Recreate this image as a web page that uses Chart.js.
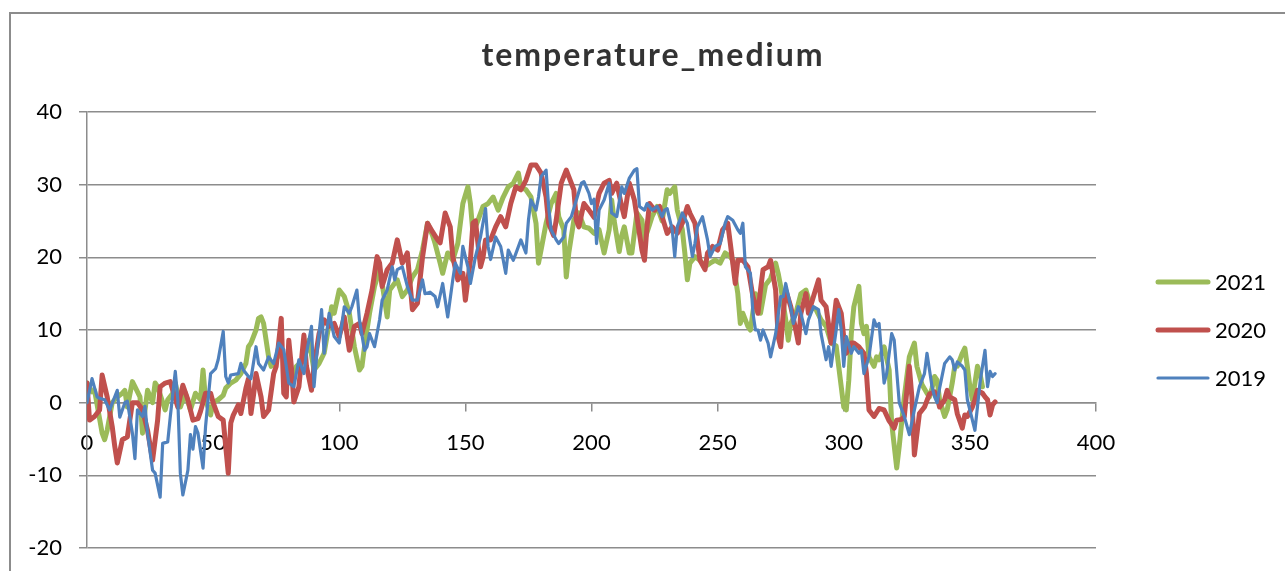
<!DOCTYPE html>
<html>
<head>
<meta charset="utf-8">
<title>temperature_medium</title>
<script src="https://cdn.jsdelivr.net/npm/chart.js@4.4.1/dist/chart.umd.min.js"></script>
<style>
  html, body { margin: 0; padding: 0; background: #fff; }
  #wrap { width: 1285px; height: 571px; }
</style>
</head>
<body>
<div id="wrap"><canvas id="myChart" width="1285" height="571"></canvas></div>
<script>
// day of year / mean temperature, one pair of arrays per year
var days2019 = [0,2,4,5,7,9,12,13,15,16,18,19,20,22,23,24,26,27,29,30,32,33,35,36,37,38,40,41,42,43,44,46,47,48,49,51,52,54,55,56,57,60,61,62,64,65,67,68,70,72,74,76,78,80,82,84,86,87,89,90,91,93,94,95,96,98,100,102,104,105,107,108,110,111,112,114,116,117,119,121,122,123,125,127,129,131,133,134,136,138,139,141,143,145,146,148,149,151,152,154,156,158,159,160,162,164,166,167,169,170,172,174,175,176,178,179,180,182,183,184,186,187,189,190,192,194,196,197,199,200,201,202,203,205,207,208,210,212,213,215,217,218,219,221,222,224,226,228,229,230,232,233,234,236,238,240,241,242,244,246,247,249,251,253,254,256,258,259,260,261,263,264,265,266,267,268,270,271,273,275,276,277,279,280,282,283,285,286,288,290,291,293,294,295,297,298,299,300,301,303,304,306,307,308,310,312,313,314,316,317,319,320,322,324,326,328,330,332,333,334,335,336,337,338,340,342,343,344,345,347,348,349,351,352,353,354,355,356,357,358,359,360];
var temp2019 = [0,3.3,0.8,0.6,0.4,-1,1.7,-2,0,0.2,-4.2,-7.7,-1,-1.9,-0.5,-4.2,-9.3,-9.7,-13,-5.6,-5.4,-2,4.3,0.4,-9.7,-12.7,-9.3,-4.4,-6.4,-3.3,-4.2,-9,-3.3,0.4,4,4.7,5.9,9.8,3.6,2.7,3.8,4,5.4,4.5,3.6,3.3,7.7,5.4,4.5,6.3,5.4,8.2,7.3,2.7,2.2,5.9,4,6.8,10.5,2.2,6.3,12.8,6.8,9.5,12.3,9.1,8.2,13.2,12.3,13.2,15.5,11.4,7.2,7.7,9.5,7.7,11.4,14.1,15.5,18.7,16.9,18.3,18.7,16,14.1,14.1,16.9,15,15.2,14.6,13.2,16.4,11.8,16.9,19.2,17.8,21.5,18.7,16.4,20.1,22.8,26.7,21.5,19.7,22.8,21.5,17.8,21,19.6,20.5,22.4,20.6,25.1,27.9,26.5,28.3,31.1,32,27,23.8,22.4,21.9,22.8,24.7,25.6,27.9,30.2,30.4,28.8,27.4,28,21.9,26.5,27.9,30.2,26.1,25.6,29.7,28.8,30.9,32,32.2,27,26.5,27.4,26.5,27,25.6,26.5,26.7,23.8,20.1,24.2,26.1,24.7,20.1,21.9,24.2,25.6,22.4,20.1,21.5,21.9,24.7,25.6,25.1,23.8,23.3,24.7,18.7,17.8,12.3,10,10,8.6,10,8.2,6.3,9.5,14.6,14.6,16.4,13.2,10.9,13.2,12.3,9.5,11.4,13.2,12.8,9.5,5.9,7.7,5,10,12.8,10,5,9.1,6.8,7.7,6.8,7.2,4,6.3,11.4,10.5,10.9,2.7,4,9.5,8.6,0,-1.9,-4.4,-1,2.2,4,6.8,4.5,2.2,0.8,0,2,5.4,6.3,5.9,4.5,5.6,5,4.5,0.4,-2.4,-3.8,-0.6,2.7,5,7.2,2.2,4.3,3.6,4];

var days2020 = [0,1,3,5,6,8,10,11,12,14,16,18,19,20,22,24,26,28,29,31,33,34,36,38,40,42,44,45,47,49,50,52,54,56,57,58,60,61,63,64,65,66,67,69,70,72,74,75,77,78,79,80,81,82,84,86,87,89,90,92,94,96,98,100,102,104,106,108,109,111,113,115,116,117,119,121,123,125,127,129,131,133,135,137,139,140,142,144,145,147,149,150,152,153,154,156,157,158,160,162,164,166,168,170,172,174,176,178,180,182,183,185,186,188,190,191,193,194,195,197,199,201,203,205,207,208,210,212,213,215,217,219,220,221,222,223,225,227,228,230,232,234,236,238,239,241,243,245,246,248,250,252,254,255,257,258,260,262,264,266,267,268,270,271,273,274,275,276,277,279,281,282,283,285,286,288,290,291,293,295,296,297,299,300,301,303,304,306,308,309,310,312,314,316,318,320,321,323,324,326,327,328,330,332,334,336,337,338,340,341,342,344,345,347,348,349,351,352,353,355,356,357,358,359,360];
var temp2020 = [2.7,-2.4,-1.9,-1,3.8,0.8,-3.3,-6,-8.3,-5.1,-4.7,0,0,0,-1,-3.8,-7.9,-2.4,2.2,2.7,2.9,1.7,-0.6,2.4,0.4,-2.4,-2.2,-1.2,1.3,1.3,0,-1.9,-2.4,-9.7,-2.8,-1.7,-0.3,-1.5,2,3.3,-1.5,1,4,0.8,-1.9,-1,4,5,11.6,1.3,0.8,8.6,5,0.1,2.2,9.3,5,1.7,5,9.5,11.4,10.5,10.9,9.1,11.8,7.2,10.5,10.9,9.5,12.3,15.5,20.1,19.2,16,18.3,19.2,22.4,19.2,20.6,12.8,13.7,20,24.7,23.5,22.4,22,26.1,24.2,20.1,16.9,17.8,14.1,19.6,24.7,25,18.7,20,22.4,22.4,24.2,25.6,24.2,27.4,29.7,29.3,30.6,32.7,32.7,31.6,28.3,24.7,23,25.1,30.2,32,31.1,29.3,25.1,24.2,27.4,26.5,25.5,28.8,30.2,30.6,28.8,30.2,27,25.6,30.2,27.9,23.3,21,19.6,24.2,27.4,26.5,27,25.6,23.3,24.2,23.3,24.7,27,26.1,24.7,19.6,18.3,20.6,21.5,21,23.8,24.7,22,16.4,19.6,19.6,18.7,14.6,12.3,15.5,18.3,18.7,19.6,15.5,9.1,7.7,12.3,15.5,13.2,10,8.2,12.3,15,12.3,14.6,16.9,14.1,13.2,8.2,11,14.1,12.3,9,6.8,8.2,8.2,7.7,6.8,4,-1,-1.9,-0.8,-1,-2.5,-3.5,-2.4,-2.3,-1.9,5,0.8,-7.2,-1.5,-0.6,1.2,1.5,0.8,-0.6,0.4,1.7,0.8,0.4,-1.5,-3.5,-1.7,-1.9,-0.6,0.4,1.7,1.3,0.8,0.4,-1.7,-0.3,0.1];

var days2021 = [0,2,3,6,7,8,10,12,14,15,16,18,19,21,22,23,24,26,27,28,31,32,34,35,37,39,41,43,45,46,47,49,50,52,54,55,57,59,61,63,64,65,67,68,69,70,72,73,75,77,79,81,83,86,88,90,92,94,96,97,98,100,102,104,106,108,109,110,112,114,116,117,119,120,123,125,127,129,131,133,135,137,138,140,141,143,145,147,149,151,152,153,155,157,159,161,163,165,167,169,171,172,174,176,178,179,180,182,184,186,187,189,190,191,193,195,197,199,201,203,205,207,208,209,211,212,213,215,216,218,220,221,223,224,226,228,230,231,233,234,236,237,238,239,241,243,245,247,249,251,253,255,256,258,259,260,262,263,265,267,269,271,273,274,275,277,278,279,281,283,285,287,289,291,293,295,297,298,300,301,302,303,304,306,307,308,309,310,312,313,314,316,318,319,321,322,324,326,328,329,331,333,334,335,336,337,338,340,341,343,344,345,347,348,349,350,351,353,354,355];
var temp2021 = [2.7,1.5,1.7,-4.2,-5.1,-3.8,0,0.8,1.3,1.7,-0.6,2.9,2.2,0.8,-4.2,-1,1.7,0,2.7,2.2,-1,0.4,1.3,2.7,-0.6,1.3,-1,1.3,0.4,4.5,0.4,-1.7,0,0.4,1,2,2.7,3.1,4,5.4,7.7,8.2,10,11.6,11.8,10.9,6.3,5,5.9,7.2,5,3.1,5,5.9,8.6,4.5,5.4,6.8,10.9,13.2,12.3,15.5,14.6,12.3,7.7,4.5,5,7.7,12.3,16,18.3,16.4,11.8,15.5,16.9,14.6,15.5,17.3,18.3,21,24.7,23,21.9,19.2,17.8,20.6,19.6,21.9,27.4,29.7,27.4,23.3,25.1,27,27.4,28.3,26.5,28.3,29.7,30.2,31.6,29.7,29.3,28.3,24.7,19.2,21,24.7,27.4,28.8,25.6,23.8,17.3,20.6,25.1,26.1,24.2,24,23.3,23.8,20.6,23.8,27.9,25,20.8,23,24.2,20.6,20.6,26.1,25.1,22.4,24.5,25.6,27,25,29.3,28.8,29.7,26.5,23.8,20.6,16.9,19.2,20.1,19.6,18.7,19.2,19.6,19.2,20.6,20.1,19.6,15,10.9,12.3,10.5,10,15,12.3,16.2,17.1,19.2,17.8,16,11.4,8.6,10.9,12.3,15,15.5,13.2,12.8,11.4,10.5,8.2,7.8,5,-0.6,-1,3.1,9.5,13.2,16,10.9,9.5,10.5,6.3,5,6.3,5.9,7.7,4.5,-2.8,-9,-6,0.8,6.3,8.2,5,2.5,1.3,0.8,2,3.6,3.1,0.4,-1.9,-1,2.7,5,5,6.8,7.5,5,2.2,0.4,5,4,2.2];

var seriesNames = ['2019', '2020', '2021'];
var seriesColors = ['#4F81BD', '#C0504D', '#9BBB59'];
var seriesWidths = [3.2, 5, 5];

var xTicks = { min: 0, max: 400, step: 50 };
var yTicks = { min: -20, max: 40, step: 10 };

var gridColor = '#8c8c8c';
var fontFamily = 'Lato, "Liberation Sans", sans-serif';

function points(days, temps) {
    return days.map(function (d, i) { return { x: d, y: temps[i] }; });
}

var allDays = [days2019, days2020, days2021];
var allTemps = [temp2019, temp2020, temp2021];

// frame, title and legend drawn the way the spreadsheet chart does it
var chartDecor = {
    id: 'chartDecor',
    beforeDraw: function (chart) {
        var c = chart.ctx;
        c.save();
        c.fillStyle = '#fff';
        c.fillRect(0, 0, chart.width, chart.height);
        c.strokeStyle = gridColor;
        c.lineWidth = 2;
        c.beginPath();
        c.moveTo(10, chart.height);
        c.lineTo(10, 13);
        c.lineTo(chart.width, 13);
        c.stroke();
        c.restore();
    },
    afterDraw: function (chart) {
        var c = chart.ctx;
        c.save();
        c.fillStyle = '#333';
        c.font = 'bold 32px ' + fontFamily;
        c.textAlign = 'center';
        c.textBaseline = 'alphabetic';
        if ('letterSpacing' in c) c.letterSpacing = '2px';
        c.fillText('temperature_medium', 653, 66);
        if ('letterSpacing' in c) c.letterSpacing = '0px';

        // legend, newest year on top
        var ds = chart.data.datasets;
        c.font = '22px ' + fontFamily;
        c.textAlign = 'left';
        c.textBaseline = 'middle';
        c.lineCap = 'round';
        for (var k = 0; k < ds.length; k++) {
            var d = ds[ds.length - 1 - k];
            var y = 282 + k * 48;
            c.strokeStyle = d.borderColor;
            c.lineWidth = d.borderWidth;
            c.beginPath();
            c.moveTo(1158, y);
            c.lineTo(1208, y);
            c.stroke();
            c.fillStyle = '#000';
            c.fillText(d.label, 1215, y + 1);
        }
        c.restore();
    }
};

var ctx = document.getElementById('myChart').getContext('2d');
var chart = new Chart(ctx, {
    type: 'line',
    data: {
        datasets: seriesNames.map(function (name, i) {
            return {
                label: name,
                data: points(allDays[i], allTemps[i]),
                borderColor: seriesColors[i],
                backgroundColor: seriesColors[i],
                borderWidth: seriesWidths[i],
                fill: false
            };
        })
    },
    options: {
        responsive: false,
        animation: false,
        devicePixelRatio: 1,
        layout: { padding: { top: 112, right: 189, bottom: 23, left: 0 } },
        elements: {
            point: { radius: 0, hoverRadius: 0 },
            line: { tension: 0, borderJoinStyle: 'round', borderCapStyle: 'round' }
        },
        plugins: {
            legend: { display: false },
            title: { display: false },
            tooltip: { enabled: false }
        },
        scales: {
            x: {
                type: 'linear',
                position: { y: 0 },
                min: xTicks.min,
                max: xTicks.max,
                ticks: {
                    stepSize: xTicks.step,
                    color: '#000',
                    font: { family: fontFamily, size: 22, lineHeight: 1.45 },
                    padding: 16,
                    maxRotation: 0,
                    autoSkip: false
                },
                grid: { drawOnChartArea: false, drawTicks: true, tickLength: 8, color: gridColor, lineWidth: 1.5 },
                border: { color: gridColor, width: 1.5 }
            },
            y: {
                min: yTicks.min,
                max: yTicks.max,
                ticks: {
                    stepSize: yTicks.step,
                    color: '#000',
                    // small lineHeight keeps the bottom label from reserving extra space
                    font: { family: fontFamily, size: 22, lineHeight: 0.5 },
                    padding: 17
                },
                grid: { color: gridColor, lineWidth: 1.5, tickLength: 8 },
                border: { color: gridColor, width: 1.5 },
                afterFit: function (scale) { scale.width = 87; }
            }
        }
    },
    plugins: [chartDecor]
});
</script>
</body>
</html>
